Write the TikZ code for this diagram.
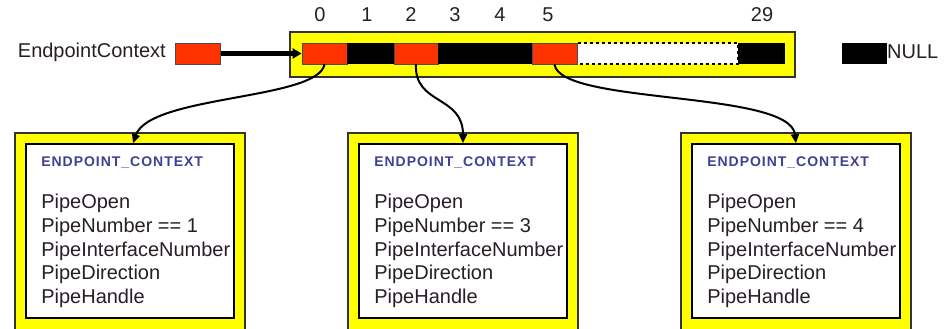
\documentclass[tikz,border=0pt]{standalone}
\usepackage{fontspec}
\setmainfont{Liberation Sans}
\newfontfamily\titlefont[LetterSpace=7]{Liberation Sans}
\usetikzlibrary{arrows.meta}
\definecolor{cellred}{RGB}{255,51,0}
\definecolor{boxyellow}{RGB}{255,255,0}
\definecolor{titleblue}{RGB}{64,64,150}
\definecolor{txt}{RGB}{40,30,40}
\tikzset{
  redcell/.style={draw=black!70, line width=0.8pt, fill=cellred, minimum width=#1, minimum height=21pt, inner sep=0pt},
  blackcell/.style={fill=black, minimum width=#1, minimum height=21pt, inner sep=0pt},
  yellowouter/.style={draw=black!80, line width=1.2pt, fill=boxyellow, minimum width=#1, inner sep=0pt},
  whiteinner/.style={draw=black, line width=1.8pt, fill=white, minimum width=208pt, minimum height=174pt, inner sep=0pt},
  lbl/.style={font=\fontsize{20}{23}\selectfont, text=txt, inner sep=0pt},
  title/.style={font=\fontsize{14}{16}\selectfont\titlefont\bfseries, text=titleblue, inner sep=0pt, anchor=base west},
  body/.style={font=\fontsize{20}{23.7}\selectfont, text=txt, inner sep=0pt, anchor=north west, align=left},
  curvearrow/.style={line width=2pt, -{Triangle[length=9pt,width=8pt]}},
  bigarrow/.style={line width=4.5pt, -{Triangle[length=9pt,width=10pt]}},
}
\begin{document}
\begin{tikzpicture}[x=1pt,y=-1pt]
\useasboundingbox (0,0) rectangle (946,329);
% top array
\node[yellowouter=505pt, minimum height=45pt] (arr) at (542.5,54.5) {};
\draw[dashed, line width=1.6pt, fill=white] (577,43) rectangle (738,64);
\node[redcell=45pt] (c0) at (324.5,53.5) {};
\node[blackcell=47pt] (c1) at (370.5,53.5) {};
\node[redcell=44pt] (c2) at (416,53.5) {};
\node[blackcell=94pt] (c34) at (485,53.5) {};
\node[redcell=45pt] (c5) at (554.5,53.5) {};
\node[blackcell=47pt] (c29) at (761.5,53.5) {};
% index labels
\node[lbl] (n0) at (320,15) {0};
\node[lbl] (n1) at (367,15) {1};
\node[lbl] (n2) at (411,15) {2};
\node[lbl] (n3) at (455,15) {3};
\node[lbl] (n4) at (500,15) {4};
\node[lbl] (n5) at (548,15) {5};
\node[lbl] (n29) at (762,15) {29};
% EndpointContext
\node[lbl, anchor=east] (eplbl) at (166,52) {EndpointContext};
\node[redcell=45pt] (ep) at (198,53.5) {};
\draw[bigarrow] (ep.east) -- (c0.west);
% NULL legend
\node[blackcell=45pt] (nullbox) at (864.5,53.5) {};
\node[lbl, anchor=west] (nulllbl) at (887,52) {NULL};
% bottom boxes
\foreach \i/\cx/\num in {1/130/1, 2/463/3, 3/796/4}{
  \node[yellowouter=230pt, minimum height=200pt] (o\i) at (\cx,233) {};
  \node[whiteinner] (b\i) at (\cx,231) {};
  \node[title] (t\i) at ([xshift=16pt,yshift=-23pt]b\i.north west) {ENDPOINT\_CONTEXT};
  \node[body] (l\i) at ([xshift=16pt,yshift=-51pt]b\i.north west) {PipeOpen\\PipeNumber == \num\\PipeInterfaceNumber\\PipeDirection\\PipeHandle};
}
% curved pointers
\draw[curvearrow] (c0.south) .. controls (318,100) and (150,95) .. ([xshift=3pt]b1.north);
\draw[curvearrow] (c2.south) .. controls (414,105) and (463,95) .. (b2.north);
\draw[curvearrow] (c5.south) .. controls (560,105) and (790,90) .. (b3.north);
\end{tikzpicture}
\end{document}
